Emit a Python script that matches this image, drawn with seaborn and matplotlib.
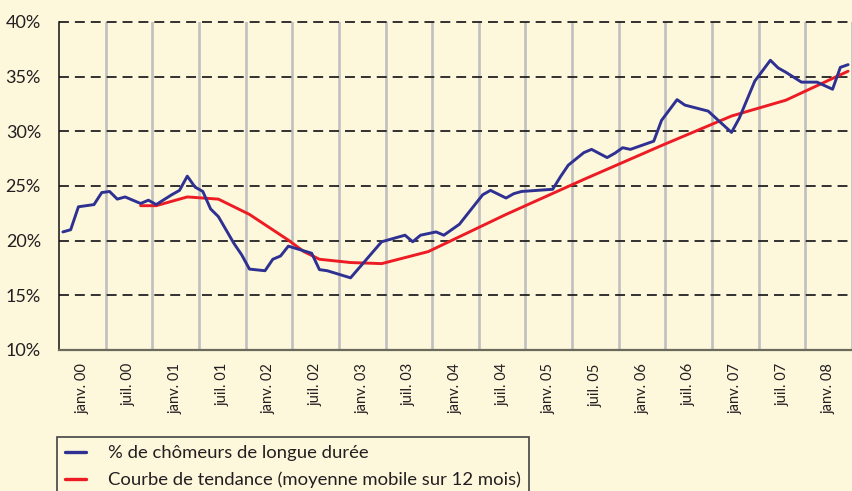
import pandas as pd
import seaborn as sns
import matplotlib.pyplot as plt

# month index: 0 = janv. 2000
mois_chom = [0, 1, 2, 4, 5, 6, 7, 8, 10, 11, 12, 14, 15, 16, 17, 18, 19, 20, 22, 23,
             24, 26, 27, 28, 29, 32, 33, 34, 37, 41, 44, 45, 46, 48, 49, 51, 54, 55, 57, 58,
             59, 63, 64, 65, 67, 68, 70, 71, 72, 73, 76, 77, 79, 80, 83, 86, 87, 89, 91, 92,
             93, 95, 97, 99, 100, 101]
taux_chom = [20.8, 21.0, 23.1, 23.3, 24.4, 24.5, 23.8, 24.0, 23.4, 23.7, 23.3, 24.2, 24.6, 25.9, 24.9, 24.5, 22.9, 22.2, 19.75, 18.7,
             17.4, 17.25, 18.3, 18.6, 19.5, 18.85, 17.35, 17.25, 16.6, 19.9, 20.5, 19.9, 20.5, 20.8, 20.5, 21.5, 24.2, 24.6, 23.9, 24.3,
             24.5, 24.7, 25.85, 26.9, 28.05, 28.35, 27.6, 28.0, 28.5, 28.35, 29.1, 31.0, 32.9, 32.4, 31.85, 29.9, 31.2, 34.6, 36.5, 35.8,
             35.4, 34.5, 34.5, 33.85, 35.85, 36.1]

mois_tend = [10, 12, 16, 20, 24, 29, 31, 33, 37, 41, 47, 57, 67, 77, 86, 93, 101]
taux_tend = [23.2, 23.2, 24.0, 23.8, 22.4, 20.05, 19.0, 18.3, 18.0, 17.9, 19.0, 22.4, 25.6, 28.7, 31.4, 32.85, 35.5]

etiquettes = ['janv. 00', 'juil. 00', 'janv. 01', 'juil. 01', 'janv. 02', 'juil. 02',
              'janv. 03', 'juil. 03', 'janv. 04', 'juil. 04', 'janv. 05', 'juil. 05',
              'janv. 06', 'juil. 06', 'janv. 07', 'juil. 07', 'janv. 08']
y_ticks = [10, 15, 20, 25, 30, 35, 40]

bg = '#fdf7dc'
ink = '#231f20'
sns.set_style('white')
plt.rcParams['font.family'] = ['Lato', 'DejaVu Sans']

fig = plt.figure(figsize=(8.52, 4.91), dpi=100, facecolor=bg)
ax = fig.add_axes([59 / 852, 1 - 350 / 491, 1 - 59 / 852, 328 / 491])
ax.set_facecolor(bg)

chom = pd.DataFrame({'mois': mois_chom, 'taux': taux_chom})
tend = pd.DataFrame({'mois': mois_tend, 'taux': taux_tend})
sns.lineplot(data=chom, x='mois', y='taux', color='#2e3192', lw=2.1, ax=ax, zorder=6,
             label='% de chômeurs de longue durée')
sns.lineplot(data=tend, x='mois', y='taux', color='#ed1c24', lw=2.1, ax=ax, zorder=5,
             label='Courbe de tendance (moyenne mobile sur 12 mois)')

ax.set_xlim(-0.5, 100.7)
ax.set_ylim(10, 40)

# y axis
ax.set_yticks(y_ticks)
ax.set_yticklabels([f'{v}%' for v in y_ticks], fontsize=13, color=ink)
ax.tick_params(axis='y', length=0, pad=13)
for v in y_ticks[1:]:
    ax.axhline(v, color='#222222', lw=1.3, dashes=(5.5, 3.3), zorder=3, clip_on=False)

# x axis: labels centred on half-years, grey separators between them
ax.set_xticks([2.5 + 6 * i for i in range(len(etiquettes))])
ax.set_xticklabels(etiquettes, rotation=90, fontsize=10.5, color=ink)
ax.set_xticks([5.5 + 6 * i for i in range(17)], minor=True)
ax.tick_params(axis='x', which='major', length=0, pad=9.5)
ax.tick_params(axis='x', which='minor', length=8.6, width=1.9, color='#c0c0c0')
ax.grid(False)
ax.xaxis.grid(True, which='minor', color='#c0c0c0', lw=1.9, zorder=1)
ax.set_axisbelow(True)
ax.set_xlabel('')
ax.set_ylabel('')

for s in ['top', 'right']:
    ax.spines[s].set_visible(False)
ax.spines['left'].set_color('#111111')
ax.spines['left'].set_linewidth(1.1)
ax.spines['bottom'].set_color('#6b6b5b')
ax.spines['bottom'].set_linewidth(1.6)
ax.spines['left'].set_zorder(7)
ax.spines['bottom'].set_zorder(7)

leg = ax.legend(loc='upper left', bbox_to_anchor=(57 / 852, 1 - 437 / 491),
                bbox_transform=fig.transFigure, fontsize=13.3, frameon=True, fancybox=False,
                facecolor=bg, framealpha=1, edgecolor='#444444', borderpad=0.45,
                handlelength=1.1, handletextpad=1.2, labelspacing=0.55, borderaxespad=0)
leg.get_frame().set_linewidth(1.2)
for h in leg.get_lines():
    h.set_linewidth(2.4)
for t in leg.get_texts():
    t.set_color(ink)

fig.savefig('out.png', dpi=100, facecolor=bg)
